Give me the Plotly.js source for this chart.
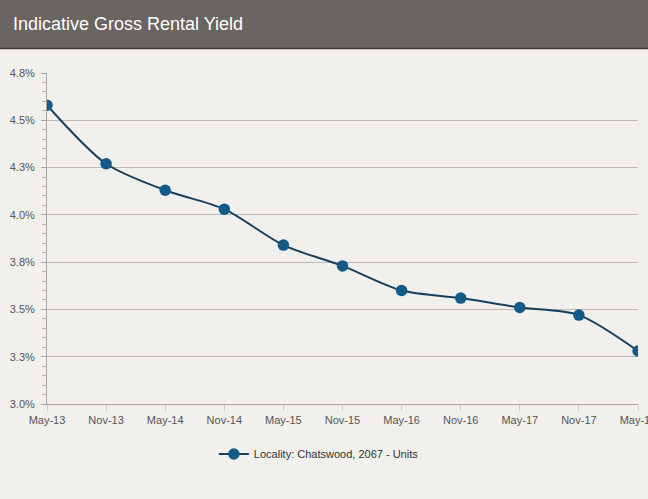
<!DOCTYPE html>
<html>
<head>
<meta charset="utf-8">
<script src="https://cdn.plot.ly/plotly-3.0.1.min.js"></script>
<style>
  html, body { margin: 0; padding: 0; background: #f2f0ec; }
  #chart { width: 648px; height: 499px; }
</style>
</head>
<body>
<div id="chart"></div>
<script>
// Half-yearly periods and yield (%)
const periods = ['May-13', 'Nov-13', 'May-14', 'Nov-14', 'May-15', 'Nov-15',
                 'May-16', 'Nov-16', 'May-17', 'Nov-17', 'May-18'];
const yieldPct = [4.58, 4.27, 4.13, 4.03, 3.84, 3.73, 3.60, 3.56, 3.51, 3.47, 3.28];

// Axis ticks are quarter points, labels rounded to one decimal like the source
const yTickVals = [3.0, 3.25, 3.5, 3.75, 4.0, 4.25, 4.5, 4.75];
const yTickText = ['3.0%', '3.3%', '3.5%', '3.8%', '4.0%', '4.3%', '4.5%', '4.8%'];

const font = 'Liberation Sans, Arial, sans-serif';

const data = [{
    x: periods,
    y: yieldPct,
    type: 'scatter',
    mode: 'lines+markers',
    name: 'Locality: Chatswood, 2067 - Units',
    line: { color: '#163f5e', width: 2, shape: 'spline', smoothing: 0.8 },
    marker: { color: '#135a88', size: 11.5, line: { width: 0 } },
    hoverinfo: 'x+y'
}];

const layout = {
    width: 648,
    height: 499,
    margin: { l: 47, r: 10, t: 73, b: 95 },
    paper_bgcolor: '#f2f0ec',
    plot_bgcolor: '#f2f0ec',
    font: { family: font, size: 11, color: '#555' },
    title: {
        text: 'Indicative Gross Rental Yield',
        font: { family: font, size: 18, color: '#ffffff' },
        xref: 'container', yref: 'container',
        x: 13 / 648, xanchor: 'left',
        y: 1 - 24 / 499, yanchor: 'middle'
    },
    xaxis: {
        type: 'category',
        range: [0, periods.length - 1],
        showgrid: false,
        zeroline: false,
        showline: true,
        linecolor: '#a9a59f',
        linewidth: 1,
        ticks: 'outside',
        ticklen: 6,
        tickcolor: '#cfcbc5',
        tickfont: { family: font, size: 11, color: '#555' },
        fixedrange: true
    },
    yaxis: {
        range: [3.0, 4.75],
        tickvals: yTickVals,
        ticktext: yTickText,
        showgrid: true,
        gridcolor: '#bdb9b3',
        gridwidth: 1,
        zeroline: false,
        showline: true,
        linecolor: '#a9a59f',
        linewidth: 1,
        ticks: 'outside',
        ticklen: 5,
        tickcolor: '#a9a59f',
        ticklabelstandoff: 4,
        minor: { dtick: 0.05, ticks: 'outside', ticklen: 4, tickcolor: '#b8b4ae', showgrid: false },
        tickfont: { family: font, size: 11, color: '#555' },
        fixedrange: true
    },
    showlegend: true,
    legend: {
        orientation: 'h',
        x: 0.46, xanchor: 'center',
        y: -0.151, yanchor: 'middle',
        bgcolor: 'rgba(0,0,0,0)',
        font: { family: font, size: 11, color: '#333' }
    },
    shapes: [
        {   // header band
            type: 'rect', xref: 'paper', yref: 'paper', layer: 'below',
            x0: -47 / 591, x1: 1 + 10 / 591,
            y0: 1 + 25 / 331, y1: 1 + 73 / 331,
            fillcolor: '#6a6561', line: { width: 0 }
        },
        {   // dark rule under the header
            type: 'line', xref: 'paper', yref: 'paper', layer: 'below',
            x0: -47 / 591, x1: 1 + 10 / 591,
            y0: 1 + 24.5 / 331, y1: 1 + 24.5 / 331,
            line: { color: '#3e3a37', width: 1.5 }
        }
    ]
};

Plotly.newPlot('chart', data, layout, { displayModeBar: false, staticPlot: true });
</script>
</body>
</html>
